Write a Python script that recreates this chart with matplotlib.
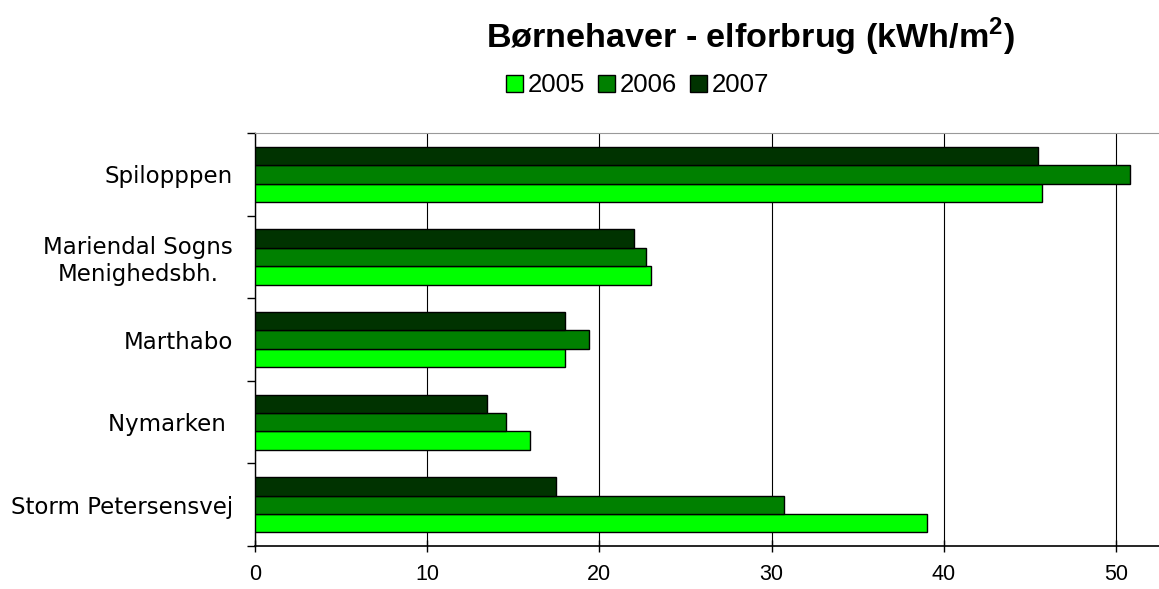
import numpy as np
import matplotlib.pyplot as plt
from matplotlib.ticker import FixedLocator

plt.rcParams["mathtext.fontset"] = "custom"
plt.rcParams["mathtext.bf"] = "Liberation Sans:bold"
plt.rcParams["mathtext.rm"] = "Liberation Sans"

# data, listed bottom to top as drawn
categories = ["Storm Petersensvej", "Nymarken ", "Marthabo",
              "Mariendal Sogns\nMenighedsbh.", "Spilopppen"]
years = ["2005", "2006", "2007"]
v2005 = [39.0, 16.0, 18.0, 23.0, 45.7]
v2006 = [30.75, 14.6, 19.4, 22.7, 50.8]
v2007 = [17.5, 13.5, 18.0, 22.0, 45.5]
colors = ["#00ff00", "#008000", "#003300"]

fig = plt.figure(figsize=(11.59, 5.89), dpi=100)
ax = fig.add_axes([0.22, 0.073, 0.78, 0.701])

y = np.arange(len(categories))
h = 0.223
for i, (vals, col, lab) in enumerate(zip([v2005, v2006, v2007], colors, years)):
    ax.barh(y + (i - 1) * h, vals, height=h, color=col, edgecolor="black",
            linewidth=1.0, label=lab, zorder=3)

ax.set_xlim(0, 52.5)
ax.set_ylim(-0.5, len(categories) - 0.5)
ax.set_xticks([0, 10, 20, 30, 40, 50])
ax.xaxis.grid(True, color="black", linewidth=0.8, zorder=0)
ax.set_yticks(y)
ax.set_yticklabels(categories, fontsize=16.5, family="DejaVu Sans", ha="right",
                   multialignment="center")
ax.tick_params(axis="y", which="major", length=0, pad=16)
ax.yaxis.set_minor_locator(FixedLocator(np.arange(-0.5, len(categories), 1.0)))
ax.tick_params(axis="y", which="minor", length=6, width=1, direction="out")
ax.tick_params(axis="x", length=9, width=1, direction="inout", pad=8.5,
               labelsize=15.5, labelfontfamily="Liberation Sans")

ax.spines["right"].set_visible(False)
ax.spines["top"].set_color("#999999")
ax.spines["left"].set_linewidth(1)
ax.spines["bottom"].set_linewidth(1.2)

fig.text(0.647, 0.919, "Børnehaver - elforbrug (kWh/m$^{\\mathbf{2}}$)",
         ha="center", va="baseline", fontsize=24.6, fontweight="bold",
         family="Liberation Sans")

handles, labels = ax.get_legend_handles_labels()
fig.legend(handles, labels, loc="center", bbox_to_anchor=(0.55, 0.855), ncol=3,
           frameon=False, handlelength=0.66, handleheight=0.66, handletextpad=0.18,
           columnspacing=0.5, borderpad=0,
           prop={"family": "Liberation Sans", "size": 18.5})

fig.savefig("out.png", dpi=100)
